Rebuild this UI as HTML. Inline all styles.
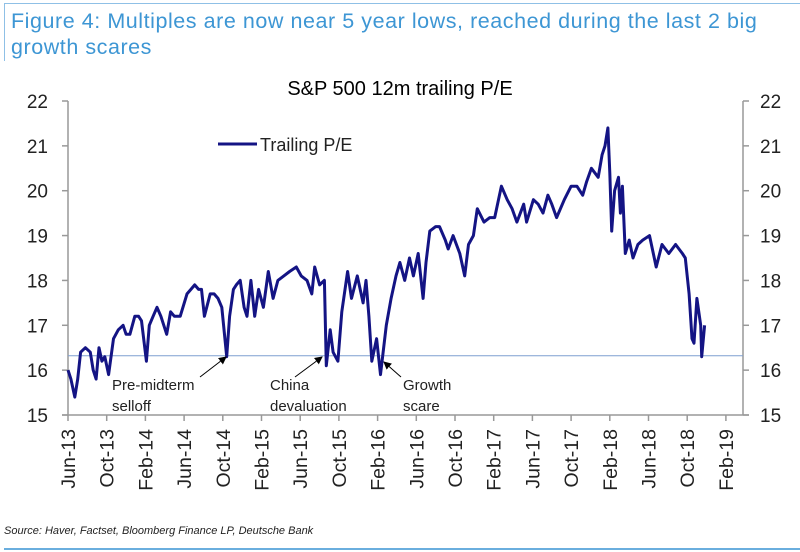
<!DOCTYPE html>
<html><head><meta charset="utf-8"><style>
html,body{margin:0;padding:0;background:#fff}
body{width:800px;height:552px;position:relative;overflow:hidden;font-family:"Liberation Sans",Arial,sans-serif}
</style></head><body>
<div style="position:absolute;left:4px;top:3px;width:796px;height:1px;background:#8fc0e6"></div>
<div style="position:absolute;left:4px;top:3px;width:1px;height:58px;background:#8fc0e6"></div>
<div style="position:absolute;left:11px;top:8px;width:785px;font-size:21.5px;line-height:26px;letter-spacing:0.55px;color:#3d96d4;white-space:nowrap">Figure 4: Multiples are now near 5 year lows, reached during the last 2 big<br>growth scares</div>
<svg id="chart" width="800" height="552" style="position:absolute;left:0;top:0"></svg>
<div style="position:absolute;left:4px;top:525px;font-size:11px;font-style:italic;color:#222">Source: Haver, Factset, Bloomberg Finance LP, Deutsche Bank</div>
<div style="position:absolute;left:4px;top:548px;width:796px;height:2px;background:#6aaede"></div>
<script>
const tickLabels=["Jun-13","Oct-13","Feb-14","Jun-14","Oct-14","Feb-15","Jun-15","Oct-15","Feb-16","Jun-16","Oct-16","Feb-17","Jun-17","Oct-17","Feb-18","Jun-18","Oct-18","Feb-19"];
const yTicks=[15,16,17,18,19,20,21,22];
const months=[0,0.3,0.7,1.0,1.3,1.8,2.3,2.6,2.9,3.2,3.5,3.8,4.2,4.7,5.2,5.7,6.0,6.4,6.9,7.3,7.6,8.1,8.4,8.8,9.2,9.6,10.2,10.6,11.0,11.6,12.3,12.7,13.1,13.5,13.8,14.1,14.7,15.1,15.5,15.9,16.4,16.7,17.1,17.4,17.8,18.2,18.5,18.9,19.3,19.7,20.2,20.7,21.2,21.7,22.3,22.9,23.6,24.1,24.7,25.2,25.5,26.0,26.5,26.7,27.1,27.4,27.9,28.3,28.9,29.3,29.9,30.5,30.8,31.1,31.4,31.9,32.3,32.9,33.4,33.9,34.3,34.8,35.3,35.7,36.2,36.7,37.0,37.4,38.0,38.4,39.0,39.3,39.8,40.5,41.0,41.4,41.9,42.3,43.0,43.6,44.1,44.5,44.8,45.4,45.9,46.4,47.1,47.4,48.1,48.6,49.1,49.6,50.0,50.5,51.3,52.0,52.6,53.2,53.6,54.1,54.8,55.2,55.5,55.8,56.0,56.2,56.5,56.9,57.1,57.3,57.6,58.0,58.4,58.9,59.4,60.1,60.8,61.4,62.1,62.8,63.5,63.8,64.2,64.5,64.7,65.0,65.4,65.5,65.8];
const pe=[16.0,15.8,15.4,15.8,16.4,16.5,16.4,16.0,15.8,16.5,16.2,16.3,15.9,16.7,16.9,17.0,16.8,16.8,17.2,17.2,17.1,16.2,17.0,17.2,17.4,17.2,16.8,17.3,17.2,17.2,17.7,17.8,17.9,17.8,17.8,17.2,17.7,17.7,17.6,17.4,16.3,17.2,17.8,17.9,18.0,17.4,17.2,18.0,17.2,17.8,17.4,18.2,17.6,18.0,18.1,18.2,18.3,18.1,18.0,17.7,18.3,17.9,18.0,16.1,16.9,16.4,16.2,17.3,18.2,17.6,18.1,17.5,18.0,17.2,16.2,16.7,15.9,17.0,17.6,18.1,18.4,18.0,18.5,18.1,18.6,17.6,18.4,19.1,19.2,19.2,18.9,18.7,19.0,18.6,18.1,18.8,19.0,19.6,19.3,19.4,19.4,19.8,20.1,19.8,19.6,19.3,19.7,19.3,19.8,19.7,19.5,19.9,19.7,19.4,19.8,20.1,20.1,19.9,20.2,20.5,20.3,20.8,21.0,21.4,20.4,19.1,20.0,20.3,19.5,20.1,18.6,18.9,18.5,18.8,18.9,19.0,18.3,18.8,18.6,18.8,18.6,18.5,17.7,16.7,16.6,17.6,17.0,16.3,17.0];
const refLevel=16.32;
const NS="http://www.w3.org/2000/svg";
const svg=document.getElementById('chart');
const X0=68,X1=743,PXM=9.675,YT=101,YB=415,YMIN=15,YMAX=22;
function xs(m){return X0+m*PXM;}
function ys(v){return YB-(v-YMIN)/(YMAX-YMIN)*(YB-YT);}
function mk(tag,attrs,parent){const e=document.createElementNS(NS,tag);for(const k in attrs)e.setAttribute(k,attrs[k]);(parent||svg).appendChild(e);return e;}
let e;
e=mk('text',{x:400,y:95,'text-anchor':'middle','font-size':20,fill:'#000'});e.textContent='S&P 500 12m trailing P/E';


e=mk('line',{x1:X0,y1:YT,x2:X0,y2:YB,stroke:'#999','stroke-width':1.5});


e=mk('line',{x1:X1,y1:YT,x2:X1,y2:YB,stroke:'#999','stroke-width':1.5});


e=mk('line',{x1:X0-6,y1:YB,x2:X1+6,y2:YB,stroke:'#999','stroke-width':1.5});


yTicks.forEach(v=>{
  const y=ys(v);
  mk('line',{x1:X0-6,y1:y,x2:X0,y2:y,stroke:'#999','stroke-width':1.5});
  mk('line',{x1:X1,y1:y,x2:X1+6,y2:y,stroke:'#999','stroke-width':1.5});
  let t=mk('text',{x:48,y:y+7,'text-anchor':'end','font-size':19,fill:'#222'});t.textContent=v;
  
  
  t=mk('text',{x:760,y:y+7,'text-anchor':'start','font-size':19,fill:'#222'});t.textContent=v;
  
  
});
tickLabels.forEach((lab,i)=>{
  const x=xs(i*4);
  mk('line',{x1:x,y1:YB,x2:x,y2:YB+6,stroke:'#999','stroke-width':1.5});
  const t=mk('text',{x:0,y:0,'text-anchor':'end','font-size':19.5,fill:'#222',transform:`translate(${x+7},${YB+14}) rotate(-90)`});
  t.textContent=lab;
  
  
});
e=mk('line',{x1:X0,y1:ys(refLevel),x2:X1,y2:ys(refLevel),stroke:'#7f9fd0','stroke-width':1});


let d=months.map((m,i)=>(i?'L':'M')+xs(m).toFixed(1)+','+ys(pe[i]).toFixed(1)).join(' ');
e=mk('path',{d:d,fill:'none',stroke:'#141484','stroke-width':3,'stroke-linejoin':'round'});


e=mk('line',{x1:218,y1:144,x2:257,y2:144,stroke:'#141484','stroke-width':3});


e=mk('text',{x:260,y:151,'font-size':18,fill:'#222'});e.textContent='Trailing P/E';


mk('defs',{}).innerHTML='<marker id="ah" markerWidth="8" markerHeight="8" refX="7" refY="4" orient="auto"><path d="M0,0 L8,4 L0,8 z" fill="#000"/></marker>';
function ann(lines,tx,ty,ax1,ay1,ax2,ay2,name){
  lines.forEach((s,i)=>{const t=mk('text',{x:tx,y:ty+i*21,'font-size':15,fill:'#222'});t.textContent=s;
    
    });
  const a=mk('line',{x1:ax1,y1:ay1,x2:ax2,y2:ay2,stroke:'#000','stroke-width':1,'marker-end':'url(#ah)'});
  
  
}
ann(['Pre-midterm','selloff'],112,390,200,377,226,357,'premidterm-annotation');
ann(['China','devaluation'],270,390,295,377,322,357,'china-annotation');
ann(['Growth','scare'],403,390,401,377,384,362,'growth-scare-annotation');
</script>
</body></html>
